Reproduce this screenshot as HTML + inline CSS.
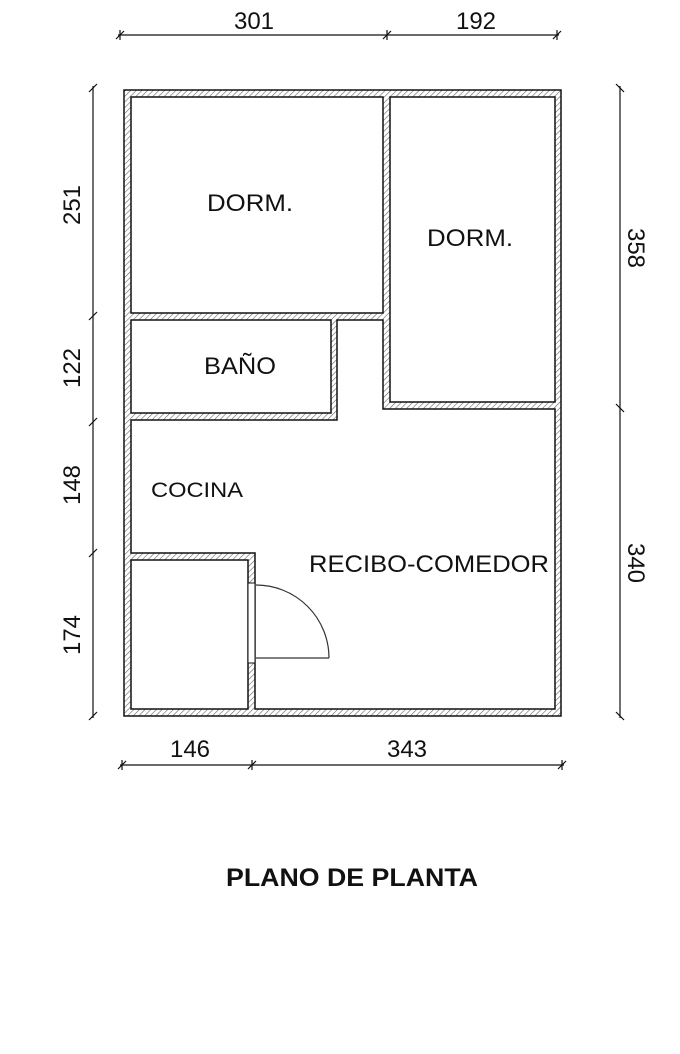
<!DOCTYPE html>
<html><head><meta charset="utf-8"><style>
html,body{margin:0;padding:0;background:#fff;}
svg{display:block;}
text{font-family:"Liberation Sans",sans-serif;fill:#111;}
</style></head><body>
<svg width="680" height="1054" viewBox="0 0 680 1054" xmlns="http://www.w3.org/2000/svg">
<defs>
<pattern id="h" width="4" height="4" patternUnits="userSpaceOnUse" patternTransform="rotate(45)">
<rect width="4" height="4" fill="#fff"/>
<line x1="0" y1="0" x2="0" y2="4" stroke="#666" stroke-width="1.2"/>
</pattern>
</defs>
<rect x="124" y="90" width="437" height="626" fill="url(#h)" stroke="#111" stroke-width="1.5"/>
<g fill="#fff" stroke="#111" stroke-width="1.5">
<rect x="131" y="97" width="252" height="216"/>
<rect x="390" y="97" width="165" height="305"/>
<rect x="131" y="320" width="200" height="93"/>
<polygon points="337,320 383,320 383,409 555,409 555,709 255,709 255,553 131,553 131,420 337,420"/>
<rect x="131" y="560" width="117" height="149"/>
</g>
<rect x="248" y="583" width="7" height="80" fill="#fff" stroke="#111" stroke-width="1"/>
<g fill="none" stroke="#333" stroke-width="1.2">
<line x1="256" y1="658" x2="329" y2="658"/>
<path d="M256,585 A73,73 0 0 1 329,658"/>
</g>
<g stroke="#111" stroke-width="1.2" fill="none">
<line x1="118" y1="35" x2="559" y2="35"/>
<line x1="116" y1="39" x2="124" y2="31"/><line x1="120" y1="30" x2="120" y2="40"/>
<line x1="383" y1="39" x2="391" y2="31"/><line x1="387" y1="30" x2="387" y2="40"/>
<line x1="553" y1="39" x2="561" y2="31"/><line x1="557" y1="30" x2="557" y2="40"/>
<line x1="93" y1="86" x2="93" y2="718"/>
<line x1="89" y1="92" x2="97" y2="84"/>
<line x1="89" y1="320" x2="97" y2="312"/>
<line x1="89" y1="426" x2="97" y2="418"/>
<line x1="89" y1="557" x2="97" y2="549"/>
<line x1="89" y1="720" x2="97" y2="712"/>
<line x1="620" y1="86" x2="620" y2="718"/>
<line x1="616" y1="84" x2="624" y2="92"/>
<line x1="616" y1="404" x2="624" y2="412"/>
<line x1="616" y1="712" x2="624" y2="720"/>
<line x1="120" y1="765" x2="564" y2="765"/>
<line x1="118" y1="769" x2="126" y2="761"/><line x1="122" y1="760" x2="122" y2="770"/>
<line x1="248" y1="769" x2="256" y2="761"/><line x1="252" y1="760" x2="252" y2="770"/>
<line x1="558" y1="769" x2="566" y2="761"/><line x1="562" y1="760" x2="562" y2="770"/>
</g>
<g font-size="24" text-anchor="middle">
<text x="254" y="29">301</text>
<text x="476" y="29">192</text>
<text x="190" y="757">146</text>
<text x="407" y="757">343</text>
<text transform="translate(80,205) rotate(-90)">251</text>
<text transform="translate(80,368) rotate(-90)">122</text>
<text transform="translate(80,485) rotate(-90)">148</text>
<text transform="translate(80,635) rotate(-90)">174</text>
<text transform="translate(628,248) rotate(90)">358</text>
<text transform="translate(628,563) rotate(90)">340</text>
</g>
<g text-anchor="middle">
<text x="250" y="211" font-size="24" textLength="86" lengthAdjust="spacingAndGlyphs">DORM.</text>
<text x="470" y="246" font-size="24" textLength="86" lengthAdjust="spacingAndGlyphs">DORM.</text>
<text x="240" y="374" font-size="24" textLength="72" lengthAdjust="spacingAndGlyphs">BAÑO</text>
<text x="197" y="497" font-size="21" textLength="92" lengthAdjust="spacingAndGlyphs">COCINA</text>
<text x="429" y="572" font-size="24" textLength="240" lengthAdjust="spacingAndGlyphs">RECIBO-COMEDOR</text>
<text x="352" y="886" font-size="25" font-weight="bold" textLength="252" lengthAdjust="spacingAndGlyphs">PLANO DE PLANTA</text>
</g>
</svg>
</body></html>
